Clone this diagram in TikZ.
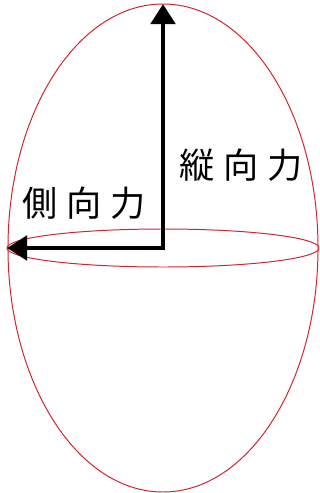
\documentclass[tikz,border=0pt]{standalone}
\usepackage{fontspec}
\usepackage{tikz}
\usetikzlibrary{positioning, arrows.meta}
\newfontfamily\jpfont{Noto Sans CJK JP}
\definecolor{eggred}{RGB}{210,35,45}
\tikzset{
    shell/.style={
        draw=eggred,
        line width=0.7pt
    },
    force/.style={
        line width=3.5pt,
        -{Triangle[length=0.5cm,width=0.6cm]}
    },
    forcelabel/.style={
        font=\jpfont\fontsize{25}{25}\selectfont,
        inner sep=0pt
    }
}
\newcommand{\spacedchars}[3]{#1\hspace{6pt}#2\hspace{6pt}#3}

\begin{document}
\begin{tikzpicture}[x=0.025cm,y=-0.025cm]
      \useasboundingbox (0,0) rectangle (320,493);

      \coordinate (O) at (163,248);
      \coordinate (T) at (163,4);
      \coordinate (L) at (7,248);

      \draw[shell] (O) ellipse [x radius=155, y radius=244];
      \draw[shell] (O) ellipse [x radius=156, y radius=19];

      \draw[force] (O) -- (T);
      \draw[force] ([xshift=1.75pt]O) -- (L);

      \node[forcelabel] (vert) at (241,165) {\spacedchars{縦}{向}{力}};
      \node[forcelabel] (side) at (84,203) {\spacedchars{側}{向}{力}};

    \end{tikzpicture}
\end{document}
